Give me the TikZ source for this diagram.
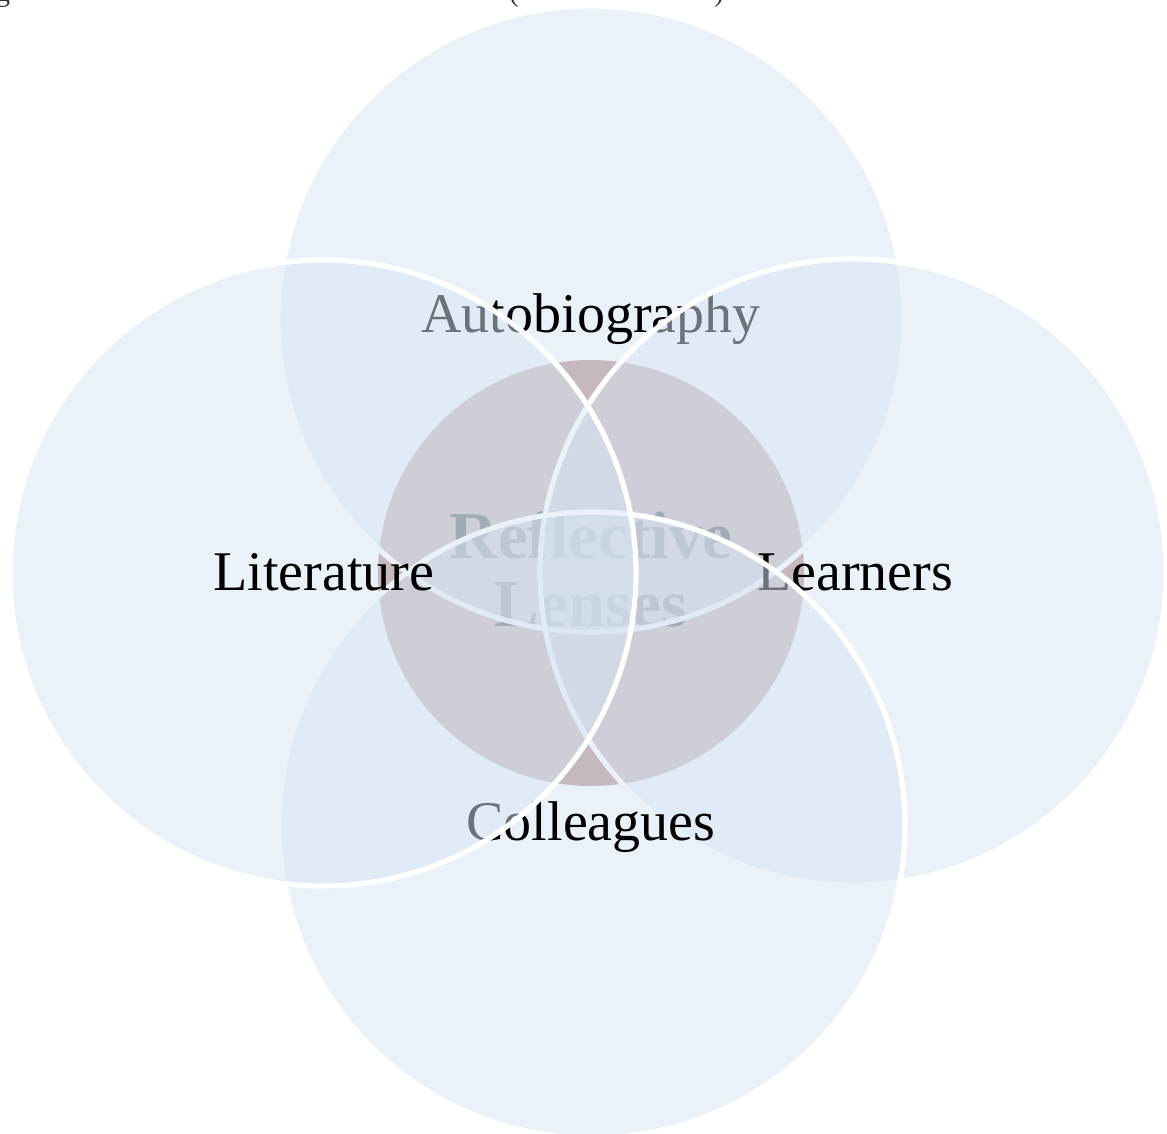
\documentclass[tikz,border=0pt]{standalone}
\usepackage{fontspec}
\setmainfont{Liberation Serif}
\definecolor{lensfill}{RGB}{215,228,242}
\definecolor{corefill}{RGB}{179,143,139}
\tikzset{
  lens/.style={fill=lensfill, fill opacity=0.5, draw=white, draw opacity=1, line width=5.2pt},
  core/.style={fill=corefill},
  lenslabel/.style={anchor=base, inner sep=0pt, text=black, font=\fontsize{56}{60}\selectfont},
  corelabel/.style={anchor=base, inner sep=0pt, text=black, font=\fontsize{67}{67}\selectfont\bfseries},
  captionbit/.style={anchor=base, inner sep=0pt, text=black!80, font=\fontsize{28}{30}\selectfont}
}
\begin{document}
\begin{tikzpicture}[x=1pt,y=-1pt]
\useasboundingbox (0,0) rectangle (1167,1133);
\clip (0,0) rectangle (1167,1133);
% clipped remains of a caption line above the diagram
\node[captionbit] (capg) at (3,1) {g};
\node[captionbit] (capl) at (514,1) {(};
\node[captionbit] (capr) at (719,1) {)};
% central disc and its label
\fill[core] (591,573) circle (213);
\node[corelabel] (refl) at (591,558) {Reflective};
\node[corelabel] (lens) at (591,626) {Lenses};
% four lenses, drawn clockwise, each followed by its label
\path[lens] (591,319) circle (313);
\node[lenslabel] (auto) at (591,332) {Autobiography};
\path[lens] (853,572) circle (313);
\node[lenslabel] (learn) at (855,590) {Learners};
\path[lens] (592,825) circle (313);
\node[lenslabel] (coll) at (591,840) {Colleagues};
\path[lens] (323,573) circle (313);
\node[lenslabel] (lit) at (324,590) {Literature};
\end{tikzpicture}
\end{document}
